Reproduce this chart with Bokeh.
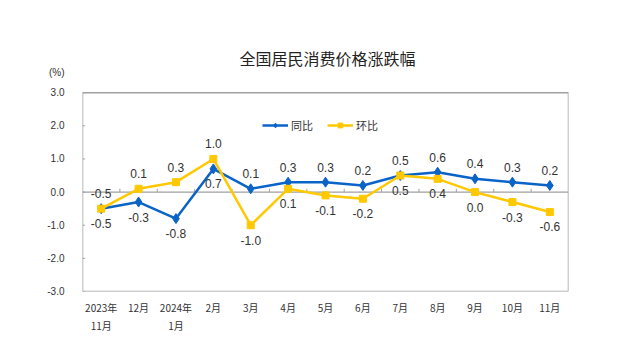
from bokeh.plotting import figure
from bokeh.models import (ColumnDataSource, Legend, LegendItem, FixedTicker,
                          LabelSet, Title)
from bokeh.core.properties import value
from bokeh.embed import file_html
from bokeh.resources import INLINE
import numpy as np

months = ["2023年\n11月", "12月", "2024年\n1月", "2月", "3月", "4月", "5月",
          "6月", "7月", "8月", "9月", "10月", "11月"]
yoy = [-0.5, -0.3, -0.8, 0.7, 0.1, 0.3, 0.3, 0.2, 0.5, 0.6, 0.4, 0.3, 0.2]
mom = [-0.5, 0.1, 0.3, 1.0, -1.0, 0.1, -0.1, -0.2, 0.5, 0.4, 0.0, -0.3, -0.6]
# label placement: 1 = above the point, -1 = below
yoy_pos = [-1, -1, -1, -1, 1, 1, 1, 1, 1, 1, 1, 1, 1]
mom_pos = [1, 1, 1, 1, -1, -1, -1, -1, -1, -1, -1, -1, -1]
y_ticks = [-3.0, -2.0, -1.0, 0.0, 1.0, 2.0, 3.0]
unit_label = "(%)"
UNIT_POS = 3.6   # where the unit label sits above the top tick

BLUE = "#0a64c8"
YELLOW = "#ffc800"
TXT = "#333333"
GRID = "#a0a0a0"
FONT = "Liberation Sans"
CJK = "Noto Sans CJK SC"

n = len(months)
xs = list(range(n))
ymin, ymax = min(y_ticks), max(y_ticks)

W, H = 620, 340
p = figure(width=W, height=H, output_backend="svg", toolbar_location=None,
           x_range=(-0.5, n - 0.5), y_range=(ymin, 3.7),
           min_border_left=82, min_border_right=52, min_border_top=69,
           min_border_bottom=49)
p.background_fill_color = "white"
p.border_fill_color = "white"
p.outline_line_color = None
p.xgrid.visible = False
p.ygrid.visible = False

# title
p.title = Title(text="全国居民消费价格涨跌幅", align="left", text_font=CJK,
                text_font_size="16px", text_font_style="normal",
                text_color="#222222", offset=157, standoff=0)

# plot box
p.quad(left=[-0.5], right=[n - 0.5], bottom=[ymin], top=[ymax],
       fill_alpha=0, line_color=GRID, line_width=1.5)

# y axis (unit label shown as an extra tick label above the top tick)
p.yaxis.ticker = FixedTicker(ticks=y_ticks + [UNIT_POS])
overrides = {t: f"{t:.1f}" for t in y_ticks}
overrides[UNIT_POS] = unit_label
p.yaxis.major_label_overrides = overrides
p.yaxis.axis_line_color = None
p.yaxis.major_tick_line_color = None
p.yaxis.minor_tick_line_color = None
p.yaxis.major_label_text_font = FONT
p.yaxis.major_label_text_font_size = "10px"
p.yaxis.major_label_text_color = TXT
p.yaxis.major_label_standoff = 12

# small inward tick marks on the y axis
p.segment(x0=[-0.5] * len(y_ticks), y0=y_ticks, x1=[-0.43] * len(y_ticks), y1=y_ticks,
          line_color=GRID, line_width=1)

# x axis
p.xaxis.ticker = FixedTicker(ticks=xs)
p.xaxis.major_label_overrides = {i: m for i, m in enumerate(months)}
p.xaxis.axis_line_color = None
p.xaxis.major_tick_line_color = None
p.xaxis.minor_tick_line_color = None
p.xaxis.major_label_text_font = CJK
p.xaxis.major_label_text_font_size = "10px"
p.xaxis.major_label_text_color = TXT
p.xaxis.major_label_standoff = 2

# zero line and small ticks at category boundaries
p.segment(x0=[-0.5], y0=[0], x1=[n - 0.5], y1=[0], line_color=GRID, line_width=1.2)
bounds = np.arange(n - 1) + 0.5
p.segment(x0=bounds, y0=[0] * len(bounds), x1=bounds, y1=[0.1] * len(bounds),
          line_color=GRID, line_width=1)

src = ColumnDataSource(dict(
    x=xs, yoy=yoy, mom=mom,
    yoy_t=[f"{v:.1f}" for v in yoy], mom_t=[f"{v:.1f}" for v in mom],
    yoy_off=[15 if s > 0 else -15 for s in yoy_pos],
    mom_off=[15 if s > 0 else -15 for s in mom_pos],
))

l1 = p.line("x", "yoy", source=src, line_color=BLUE, line_width=2.5)
m1 = p.scatter("x", "yoy", source=src, marker="diamond", size=10, color=BLUE)
l2 = p.line("x", "mom", source=src, line_color=YELLOW, line_width=2.5)
m2 = p.scatter("x", "mom", source=src, marker="square", size=7, color=YELLOW)

yoy_labels = LabelSet(x="x", y="yoy", text="yoy_t", source=src, y_offset="yoy_off",
                      text_align="center", text_baseline="middle",
                      text_font=value(FONT), text_font_size=value("12px"),
                      text_color=TXT)
mom_labels = LabelSet(x="x", y="mom", text="mom_t", source=src, y_offset="mom_off",
                      text_align="center", text_baseline="middle",
                      text_font=value(FONT), text_font_size=value("12px"),
                      text_color=TXT)
p.add_layout(yoy_labels)
p.add_layout(mom_labels)

legend = Legend(items=[LegendItem(label="同比", renderers=[l1, m1]),
                       LegendItem(label="环比", renderers=[l2, m2])],
                orientation="horizontal", location=(180, 158),
                label_text_font=CJK, label_text_font_size="11px",
                label_text_color=TXT, glyph_width=26, glyph_height=12,
                spacing=14, padding=2, margin=0, label_standoff=3,
                border_line_color=None, background_fill_alpha=0)
p.add_layout(legend)

open("out.html", "w").write(file_html(p, INLINE))
